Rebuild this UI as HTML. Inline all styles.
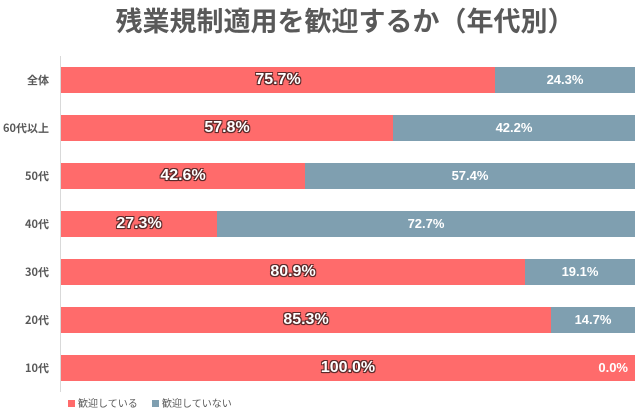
<!DOCTYPE html>
<html><head><meta charset="utf-8"><style>
body{margin:0;width:640px;height:420px;background:#fff;position:relative;overflow:hidden;font-family:"Liberation Sans","Noto Sans CJK JP",sans-serif}
.t{position:absolute;left:0;width:690px;top:3px;text-align:center;font-size:27px;font-weight:bold;color:#595959;line-height:34px;font-family:"Noto Sans CJK JP",sans-serif}
.ax{position:absolute;left:60px;top:56px;width:1px;height:336px;background:#d9d9d9}
.c{position:absolute;left:0;width:49px;text-align:right;font-size:11px;font-weight:bold;color:#595959;line-height:26px;font-family:"Noto Sans CJK JP",sans-serif}
.r,.g{position:absolute;height:26px;line-height:26px;text-align:center;color:#fff;font-weight:bold}
.r{background:#FF6B6B;font-size:16px;text-shadow:-1px -1px 0 #5a2a2a,1px -1px 0 #5a2a2a,-1px 1px 0 #5a2a2a,1px 1px 0 #5a2a2a,0 1px 1px #5a2a2a}
.g{background:#7F9FB0;font-size:13px}
.lg{position:absolute;top:396px;font-size:10px;color:#595959;line-height:14px;font-family:"Noto Sans CJK JP",sans-serif}
.lg i{display:inline-block;width:7px;height:7px;margin-right:3px;vertical-align:0}
</style></head><body>
<div class="t">残業規制適用を歓迎するか（年代別）</div>
<div class="ax"></div>

<div class="c" style="top:67px">全体</div>
<div class="r" style="left:61px;top:67px;width:434px"><span style="position:absolute;right:0;width:434px;">75.7%</span></div>
<div class="g" style="left:495px;top:67px;width:140px">24.3%</div>

<div class="c" style="top:115px">60代以上</div>
<div class="r" style="left:61px;top:115px;width:332px">57.8%</div>
<div class="g" style="left:393px;top:115px;width:242px">42.2%</div>

<div class="c" style="top:163px">50代</div>
<div class="r" style="left:61px;top:163px;width:244px">42.6%</div>
<div class="g" style="left:305px;top:163px;width:330px">57.4%</div>

<div class="c" style="top:211px">40代</div>
<div class="r" style="left:61px;top:211px;width:156px">27.3%</div>
<div class="g" style="left:217px;top:211px;width:418px">72.7%</div>

<div class="c" style="top:259px">30代</div>
<div class="r" style="left:61px;top:259px;width:464px">80.9%</div>
<div class="g" style="left:525px;top:259px;width:110px">19.1%</div>

<div class="c" style="top:307px">20代</div>
<div class="r" style="left:61px;top:307px;width:490px">85.3%</div>
<div class="g" style="left:551px;top:307px;width:84px">14.7%</div>

<div class="c" style="top:355px">10代</div>
<div class="r" style="left:61px;top:355px;width:574px">100.0%</div>
<div style="position:absolute;left:560px;width:68px;top:355px;line-height:26px;text-align:right;color:#fff;font-weight:bold;font-size:13px">0.0%</div>

<div class="lg" style="left:68px"><i style="background:#FF6B6B"></i>歓迎している</div>
<div class="lg" style="left:152px"><i style="background:#7F9FB0"></i>歓迎していない</div>
</body></html>
